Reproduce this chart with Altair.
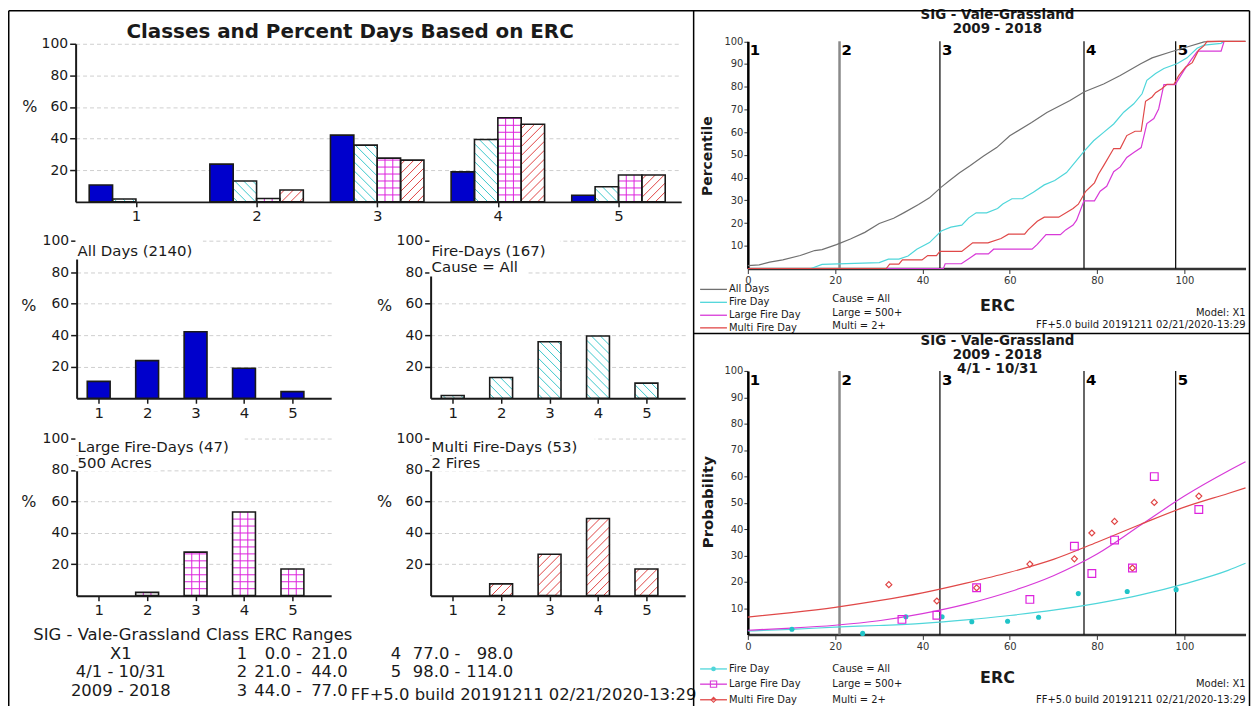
import altair as alt
import pandas as pd

# ------------------------------------------------------------------ data
classes = [1, 2, 3, 4, 5]
all_days_pct = [10.7, 23.9, 42.2, 19.0, 4.2]
fire_day_pct = [1.8, 13.2, 35.9, 39.5, 9.6]
large_fire_pct = [0.0, 2.1, 27.7, 53.2, 17.0]
multi_fire_pct = [0.0, 7.5, 26.4, 49.1, 17.0]

class_lo = [0.0, 21.0, 44.0, 77.0, 98.0]
class_hi = [21.0, 44.0, 77.0, 98.0, 114.0]

series_names = ["All Days", "Fire Day", "Large Fire Day", "Multi Fire Day"]

# cumulative percentile curves (ERC, percentile)
all_erc = [0, 2.6, 5, 8, 12, 15.3, 17, 20.3, 23.5, 26.8, 30.1, 33.4, 35.8, 39.1, 41.6, 44.3,
           46.5, 48.5, 50.8, 54, 57, 60, 65, 68.5, 73.8, 77.1, 81.5, 85.3, 90, 92.6, 96.8,
           100.6, 104.5, 108, 114]
all_pct = [1.3, 1.6, 2.8, 3.8, 5.7, 7.9, 8.3, 10.5, 13.0, 15.9, 19.8, 22.1, 24.6, 28.2, 31.1, 35.8,
           39.2, 42.1, 45.1, 49.5, 53.2, 58.4, 64.3, 68.7, 73.9, 77.8, 81.2, 84.9, 90.1, 92.7, 95.3,
           97.5, 99.7, 100, 100]
fire_erc = [0, 14.5, 17, 30.1, 32.2, 34.6, 36.7, 38.7, 41.6, 44.3, 46.5, 49.0, 50.6, 52.3, 54.7,
            57.2, 58.4, 60.5, 62.9, 65.4, 67.9, 70.3, 73.0, 74.6, 77.1, 79.2, 81.5, 83.8, 86.1,
            88.4, 90.3, 91.4, 93.4, 95.3, 98.4, 100.6, 102.9, 104.5, 108.4, 109.1]
fire_pct = [0, 0, 1.8, 2.6, 4.1, 4.1, 5.5, 8.5, 11.4, 16.5, 18.2, 19.1, 22.3, 24.5, 24.5,
            26.4, 28.4, 30.7, 30.7, 33.6, 36.8, 38.7, 42.2, 45.9, 51.8, 56.2, 59.9, 63.6, 68.8,
            72.5, 76.9, 82.8, 85.8, 88.0, 90.2, 92.7, 96.9, 98.3, 99.1, 100]
large_erc = [0, 44.8, 45.2, 48.9, 50.6, 52.2, 55.1, 56.3, 65.1, 66.3, 68.3, 71.6, 72.8, 74.5,
             75.3, 77.0, 79.4, 80.7, 82.2, 83.8, 85.3, 86.8, 88.4, 90.1, 91.4, 93.0, 94.1, 95.3,
             97.9, 99.9, 101.4, 103.0, 108.4, 109.1]
large_pct = [0, 0, 2.1, 2.1, 4.3, 6.4, 6.4, 8.5, 8.5, 10.6, 14.9, 14.9, 17.0, 19.1,
             21.3, 29.8, 29.8, 34.0, 36.2, 42.6, 44.7, 48.9, 51.1, 53.2, 63.8, 66.0, 70.2, 80.9,
             80.9, 87.2, 91.5, 95.7, 95.7, 100]
multi_erc = [0, 31.7, 32.5, 34.6, 35.4, 39.9, 41.2, 43.2, 44.0, 49.0, 51.5, 55.0, 58.0, 59.7,
             63.4, 64.2, 66.3, 67.9, 71.2, 74.5, 75.7, 77.4, 79.4, 80.3, 81.5, 83.8, 85.3, 86.8,
             88.7, 90.1, 91.1, 92.6, 93.4, 94.9, 96.0, 97.6, 98.7, 100.3, 101.8, 103.3, 104.5,
             105.2, 114]
multi_pct = [0, 0, 1.9, 1.9, 3.8, 3.8, 5.7, 5.7, 7.5, 7.5, 11.3, 11.3, 13.2, 15.1,
             15.1, 17.0, 20.8, 22.6, 22.6, 26.4, 28.3, 34.0, 37.7, 41.5, 45.3, 52.8, 52.8, 58.5,
             60.4, 60.4, 73.6, 75.5, 77.4, 79.2, 81.1, 81.1, 84.9, 88.7, 90.6, 96.2, 98.1,
             100, 100]

# probability points
fire_pt_erc = [10.1, 26.3, 36.2, 44.5, 51.3, 59.5, 66.6, 75.7, 86.9, 98.1]
fire_pt_prob = [2.0, 0.4, 6.7, 6.7, 4.8, 5.0, 6.5, 15.5, 16.3, 17.0]
large_pt_erc = [35.3, 43.3, 52.4, 64.6, 74.8, 78.8, 84.0, 88.1, 93.1, 103.3]
large_pt_prob = [5.7, 7.3, 17.7, 13.3, 33.5, 23.1, 35.8, 25.2, 59.9, 47.4]
multi_pt_erc = [32.3, 43.3, 52.4, 64.6, 74.8, 78.8, 84.0, 88.1, 93.1, 103.3]
multi_pt_prob = [18.9, 12.7, 17.7, 26.7, 28.7, 38.5, 42.9, 25.2, 50.1, 52.5]

# fitted probability curves
curve_erc = [0, 10, 20, 30, 40, 50, 60, 70, 80, 90, 100, 110, 114]
fire_curve = [1.3, 1.9, 2.8, 3.4, 4.2, 5.5, 7.2, 9.2, 11.8, 15.0, 19.2, 24.3, 27.0]
large_curve = [1.6, 2.4, 3.5, 5.2, 7.9, 11.5, 16.2, 22.3, 30.5, 41.5, 52.5, 62.0, 65.5]
multi_curve = [6.6, 8.3, 10.3, 12.8, 15.8, 19.5, 23.6, 28.5, 35.0, 41.8, 48.3, 53.5, 55.6]

# ------------------------------------------------------------------ layout / style
W, H = 1250, 700
FONT = "DejaVu Sans"
INK = "#1a1a1a"
BLUE = "#0000cc"
CYAN = "#3cc8cc"
MAG = "#dd22dd"
RED = "#e04444"
GRAY = "#707070"
L_CYAN = "#4fd6da"
L_MAG = "#d83ad8"
L_RED = "#e04848"

TOP = dict(xd=[0.5, 5.52], xr=[68, 677], yd=[0, 100], yr=[193, 34])
SM_X = [69, 425]
SM_Y = [(390.5, 232), (589, 431)]


def small(col, row):
    x0 = SM_X[col]
    y0, y1 = SM_Y[row]
    return dict(xd=[0.544, 5.80], xr=[x0, x0 + 256], yd=[0, 100], yr=[y0, y1])


PCT = dict(xd=[0, 114], xr=[744, 1244.5], yd=[0, 100], yr=[260, 31.5])
PRB = dict(xd=[0, 114], xr=[744, 1244.5], yd=[0, 100], yr=[628, 363])

ONE = pd.DataFrame({"k": [0]})
layers = []


def xscale(p):
    return alt.Scale(domain=p["xd"], range=p["xr"], nice=False, zero=False)


def yscale(p):
    return alt.Scale(domain=p["yd"], range=p["yr"], nice=False, zero=False)


def px_per(p):
    sx = (p["xr"][1] - p["xr"][0]) / (p["xd"][1] - p["xd"][0])
    sy = (p["yr"][0] - p["yr"][1]) / (p["yd"][1] - p["yd"][0])
    return sx, sy


def txt(s, x, y, size=16, bold=False, align="left", color=INK, angle=None, baseline="middle"):
    kw = dict(text=s, font=FONT, fontSize=size, fontWeight="bold" if bold else "normal",
              align=align, baseline=baseline, color=color)
    if angle is not None:
        kw["angle"] = angle
    return alt.Chart(ONE).mark_text(**kw).encode(x=alt.value(x), y=alt.value(y))


def seg(x1, y1, x2, y2, color="#000", w=1.5):
    return alt.Chart(ONE).mark_rule(color=color, strokeWidth=w).encode(
        x=alt.value(x1), x2=alt.value(x2), y=alt.value(y1), y2=alt.value(y2))


def box(x1, y1, x2, y2, color="white"):
    return alt.Chart(ONE).mark_rect(color=color).encode(
        x=alt.value(x1), x2=alt.value(x2), y=alt.value(y1), y2=alt.value(y2))


def hatch_rows(c, hw, v, kind, sx, sy, color, d=9.0, dh=7.0):
    Wb = 2 * hw * sx
    Hb = v * sy
    xl = c - hw
    rows = []

    def add(p1, q1, p2, q2):
        rows.append(dict(hx=xl + p1 / sx, hx2=xl + p2 / sx, hy=q1 / sy, hy2=q2 / sy, col=color))

    if kind == "back":
        k = d / 2
        while k < Wb + Hb:
            p1, p2 = max(0.0, k - Hb), min(Wb, k)
            if p2 > p1:
                add(p1, k - p1, p2, k - p2)
            k += d
    elif kind == "fwd":
        k = -Hb + d / 2
        while k < Wb:
            p1, p2 = max(0.0, k), min(Wb, Hb + k)
            if p2 > p1:
                add(p1, p1 - k, p2, p2 - k)
            k += d
    elif kind == "grid":
        for f in (1 / 3, 2 / 3):
            add(Wb * f, 0, Wb * f, Hb)
        q = dh
        while q < Hb - 0.5:
            add(0, q, Wb, q)
            q += dh
    return rows


def left_axes(p):
    xa = alt.Axis(orient="bottom", offset=p["yr"][0] - H, values=classes, format="d", grid=False,
                  domainColor=INK, domainWidth=2, tickColor=INK, tickSize=5, tickWidth=1.5,
                  labelFont=FONT, labelFontSize=15, labelColor=INK, labelPadding=2,
                  labelFlush=False, title=None)
    ya = alt.Axis(orient="left", offset=-p["xr"][0], values=[20, 40, 60, 80, 100], grid=True,
                  gridColor="#cfcfcf", gridDash=[4, 3], gridWidth=1, domainColor=INK,
                  domainWidth=2, tickColor=INK, tickSize=6, tickWidth=1.5, labelFont=FONT,
                  labelFontSize=14, labelColor=INK, labelPadding=2, labelFlush=False, title=None)
    return xa, ya


def bar_panel(p, bars):
    sx, sy = px_per(p)
    bars = [b for b in bars if b["v"] > 0]
    df = pd.DataFrame(bars)
    df["x1"] = df["c"] - df["hw"]
    df["x2"] = df["c"] + df["hw"]
    df["base"] = 0.0
    xa, ya = left_axes(p)
    out = [alt.Chart(df).mark_rect(strokeWidth=0).encode(
        x=alt.X("x1:Q", scale=xscale(p), axis=xa), x2="x2:Q",
        y=alt.Y("v:Q", scale=yscale(p), axis=ya), y2="base:Q",
        color=alt.Color("fill:N", scale=None))]
    hrows = []
    for b in bars:
        if b["kind"]:
            hrows += hatch_rows(b["c"], b["hw"], b["v"], b["kind"], sx, sy, b["hcol"])
    if hrows:
        hdf = pd.DataFrame(hrows)
        out.append(alt.Chart(hdf).mark_rule(strokeWidth=1).encode(
            x=alt.X("hx:Q", scale=xscale(p), axis=None), x2="hx2:Q",
            y=alt.Y("hy:Q", scale=yscale(p), axis=None), y2="hy2:Q",
            color=alt.Color("col:N", scale=None)))
    out.append(alt.Chart(df).mark_rect(fillOpacity=0, stroke=INK, strokeWidth=1.6).encode(
        x=alt.X("x1:Q", scale=xscale(p), axis=None), x2="x2:Q",
        y=alt.Y("v:Q", scale=yscale(p), axis=None), y2="base:Q"))
    return out


series_style = [
    (all_days_pct, BLUE, None, None),
    (fire_day_pct, "white", "back", CYAN),
    (large_fire_pct, "white", "grid", MAG),
    (multi_fire_pct, "white", "fwd", RED),
]

# ---------------- left: top grouped chart
sx_top, _ = px_per(TOP)
w_top = 23.5 / sx_top
rows = []
for j, (vals, fill, kind, hcol) in enumerate(series_style):
    for i, c in enumerate(classes):
        rows.append(dict(c=c + (j - 1.5) * w_top, hw=w_top / 2, v=vals[i], fill=fill,
                         kind=kind, hcol=hcol))
layers += bar_panel(TOP, rows)

# ---------------- left: four small charts
small_pos = [(0, 0), (1, 0), (0, 1), (1, 1)]
for (col, row), (vals, fill, kind, hcol) in zip(small_pos, series_style):
    p = small(col, row)
    sxs, _ = px_per(p)
    hw = 11.5 / sxs
    rows = [dict(c=c, hw=hw, v=vals[i], fill=fill, kind=kind, hcol=hcol)
            for i, c in enumerate(classes)]
    layers += bar_panel(p, rows)

# white backgrounds behind captions
layers += [
    box(67.8, 230.5, 196, 251),
    box(423.8, 230.5, 555, 250.5), box(423.8, 250.5, 522, 268),
    box(67.8, 429.5, 238, 448), box(67.8, 448, 151, 464),
    box(423.8, 429.5, 590, 448), box(423.8, 448, 480, 464),
]

CS = 15  # caption size
layers += [
    txt("Classes and Percent Days Based on ERC", 344, 22, size=20, bold=True, align="center"),
    txt("%", 22, 98, align="center"),
    txt("%", 21, 298, align="center"), txt("%", 378.6, 298, align="center"),
    txt("%", 21, 495, align="center"), txt("%", 378.6, 495, align="center"),
    txt("All Days (2140)", 70, 242.2, size=CS),
    txt("Fire-Days (167)", 426, 242.2, size=CS), txt("Cause = All", 426, 258.8, size=CS),
    txt("Large Fire-Days (47)", 70, 439.3, size=CS), txt("500 Acres", 70, 456, size=CS),
    txt("Multi Fire-Days (53)", 426, 439.3, size=CS), txt("2 Fires", 426, 456, size=CS),
]

# class ERC range block
BS = 16.5
layers += [
    txt("SIG - Vale-Grassland Class ERC Ranges", 25.5, 628.7, size=BS),
    txt("X1", 113.4, 647.3, size=BS, align="center"),
    txt("4/1 - 10/31", 113.4, 666, size=BS, align="center"),
    txt("2009 - 2018", 113.4, 684.7, size=BS, align="center"),
]
row_y = [647.3, 666, 684.7]
for i, c in enumerate(classes):
    if i < 3:
        xn, xlo, xhi, yy = 230, 295.6, 341.6, row_y[i]
    else:
        xn, xlo, xhi, yy = 385, 455, 508, row_y[i - 3]
    layers += [
        txt(str(c), xn, yy, size=BS),
        txt(f"{class_lo[i]:.1f} -", xlo, yy, size=BS, align="right"),
        txt(f"{class_hi[i]:.1f}", xhi, yy, size=BS, align="right"),
    ]
layers.append(txt("FF+5.0 build 20191211 02/21/2020-13:29", 344.7, 688.7, size=BS))


# ---------------- right charts
def right_axes(p):
    xa = alt.Axis(orient="bottom", offset=p["yr"][0] - H, values=[0, 20, 40, 60, 80, 100],
                  format="d", grid=False, domainColor="#333", domainWidth=2.5, tickColor="#333",
                  tickSize=5, labelFont=FONT, labelFontSize=10, labelColor="#333",
                  labelPadding=2, labelFlush=False, title=None)
    ya = alt.Axis(orient="left", offset=-p["xr"][0], values=list(range(10, 101, 10)), grid=False,
                  domainColor="#000", domainWidth=2.5, tickColor="#333", tickSize=4,
                  labelFont=FONT, labelFontSize=10, labelColor="#333", labelPadding=1,
                  labelFlush=False, title=None)
    return xa, ya


def class_lines(p):
    xa, ya = right_axes(p)
    bdf = pd.DataFrame({"b": class_lo[1:], "lo": 0.0, "hi": 100.0,
                        "col": ["#8a8a8a", "#000000", "#000000", "#000000"],
                        "w": [2.5, 1.2, 1.2, 1.2]})
    ldf = pd.DataFrame({"b": class_lo, "top": 100.0, "lab": [str(c) for c in classes]})
    return [
        alt.Chart(bdf).mark_rule().encode(
            x=alt.X("b:Q", scale=xscale(p), axis=xa),
            y=alt.Y("lo:Q", scale=yscale(p), axis=ya), y2="hi:Q",
            color=alt.Color("col:N", scale=None),
            strokeWidth=alt.StrokeWidth("w:Q", scale=None)),
        alt.Chart(ldf).mark_text(align="left", baseline="top", dx=2, dy=2, font=FONT,
                                 fontSize=15, fontWeight="bold", color="#000").encode(
            x=alt.X("b:Q", scale=xscale(p), axis=None),
            y=alt.Y("top:Q", scale=yscale(p), axis=None), text="lab:N"),
    ]


def line_layer(p, xs_, ys_, color, width=1.2, interp="linear"):
    df = pd.DataFrame({"e": xs_, "v": ys_})
    return alt.Chart(df).mark_line(color=color, strokeWidth=width, interpolate=interp).encode(
        x=alt.X("e:Q", scale=xscale(p), axis=None), y=alt.Y("v:Q", scale=yscale(p), axis=None))


def pts_layer(p, xs_, ys_, shape, color, size, filled):
    df = pd.DataFrame({"e": xs_, "v": ys_})
    return alt.Chart(df).mark_point(shape=shape, size=size, filled=filled, color=color,
                                     strokeWidth=1.2, opacity=1).encode(
        x=alt.X("e:Q", scale=xscale(p), axis=None), y=alt.Y("v:Q", scale=yscale(p), axis=None))


TS = 13.5  # right-panel title size

# percentile chart
layers += class_lines(PCT)
layers += [
    line_layer(PCT, all_erc, all_pct, GRAY),
    line_layer(PCT, fire_erc, fire_pct, L_CYAN),
    line_layer(PCT, large_erc, large_pct, L_MAG),
    line_layer(PCT, multi_erc, multi_pct, L_RED),
]
leg_cols = [GRAY, L_CYAN, L_MAG, L_RED]
leg_y = [281, 294, 307, 319.7]
for name, col, yy in zip(series_names, leg_cols, leg_y):
    layers += [seg(696, yy, 723, yy, color=col, w=1.3), txt(name, 725, yy, size=10)]
layers += [
    txt("SIG - Vale-Grassland", 995, 5.5, size=TS, bold=True, align="center"),
    txt("2009 - 2018", 995, 19.5, size=TS, bold=True, align="center"),
    txt("Percentile", 704, 147, size=14, bold=True, align="center", angle=270),
    txt("ERC", 995, 298, size=16, bold=True, align="center"),
    txt("Cause = All", 829, 290.5, size=10),
    txt("Large = 500+", 829, 304.7, size=10),
    txt("Multi = 2+", 829, 317.7, size=10),
    txt("Model: X1", 1244.5, 304.7, size=10, align="right"),
    txt("FF+5.0 build 20191211 02/21/2020-13:29", 1244.5, 317.3, size=10, align="right"),
]

# probability chart
layers += class_lines(PRB)
layers += [
    line_layer(PRB, curve_erc, fire_curve, L_CYAN, interp="monotone"),
    line_layer(PRB, curve_erc, large_curve, L_MAG, interp="monotone"),
    line_layer(PRB, curve_erc, multi_curve, L_RED, interp="monotone"),
    pts_layer(PRB, fire_pt_erc, fire_pt_prob, "circle", "#20c4c8", 26, True),
    pts_layer(PRB, multi_pt_erc, multi_pt_prob, "diamond", RED, 36, False),
    pts_layer(PRB, large_pt_erc, large_pt_prob, "square", MAG, 60, False),
]
leg2 = [("Fire Day", L_CYAN, "circle", True, 22), ("Large Fire Day", L_MAG, "square", False, 40),
        ("Multi Fire Day", L_RED, "diamond", False, 26)]
leg2_y = [662.7, 678, 693.7]
for (name, col, shp, fil, sz), yy in zip(leg2, leg2_y):
    layers += [
        seg(696, yy, 723, yy, color=col, w=1.3),
        alt.Chart(ONE).mark_point(shape=shp, size=sz, filled=fil, color=col, opacity=1,
                                  strokeWidth=1.1).encode(x=alt.value(709.5), y=alt.value(yy)),
        txt(name, 725, yy, size=10),
    ]
layers += [
    txt("SIG - Vale-Grassland", 995, 333, size=TS, bold=True, align="center"),
    txt("2009 - 2018", 995, 347, size=TS, bold=True, align="center"),
    txt("4/1 - 10/31", 995, 361, size=TS, bold=True, align="center"),
    txt("Probability", 704, 495, size=15, bold=True, align="center", angle=270),
    txt("ERC", 995, 672, size=16, bold=True, align="center"),
    txt("Cause = All", 829, 662.7, size=10),
    txt("Large = 500+", 829, 678, size=10),
    txt("Multi = 2+", 829, 693.7, size=10),
    txt("Model: X1", 1244.5, 678, size=10, align="right"),
    txt("FF+5.0 build 20191211 02/21/2020-13:29", 1244.5, 693.7, size=10, align="right"),
]

# frames
layers += [
    seg(0.75, 0.75, 1248.5, 0.75, w=1.5),
    seg(0.75, 0.75, 0.75, H, w=1.5),
    seg(689.5, 0.75, 689.5, H, w=1.5),
    seg(1248.5, 0.75, 1248.5, H, w=1.5),
    seg(689.5, 325.3, 1248.5, 325.3, w=1.5),
]

chart = (
    alt.layer(*layers)
    .resolve_scale(x="independent", y="independent")
    .resolve_axis(x="independent", y="independent")
    .properties(width=W, height=H, padding=0, background="white",
                autosize=alt.AutoSizeParams(type="none"))
    .configure_view(stroke=None)
)

chart.save("out.html", embed_options={"renderer": "svg", "actions": False})
